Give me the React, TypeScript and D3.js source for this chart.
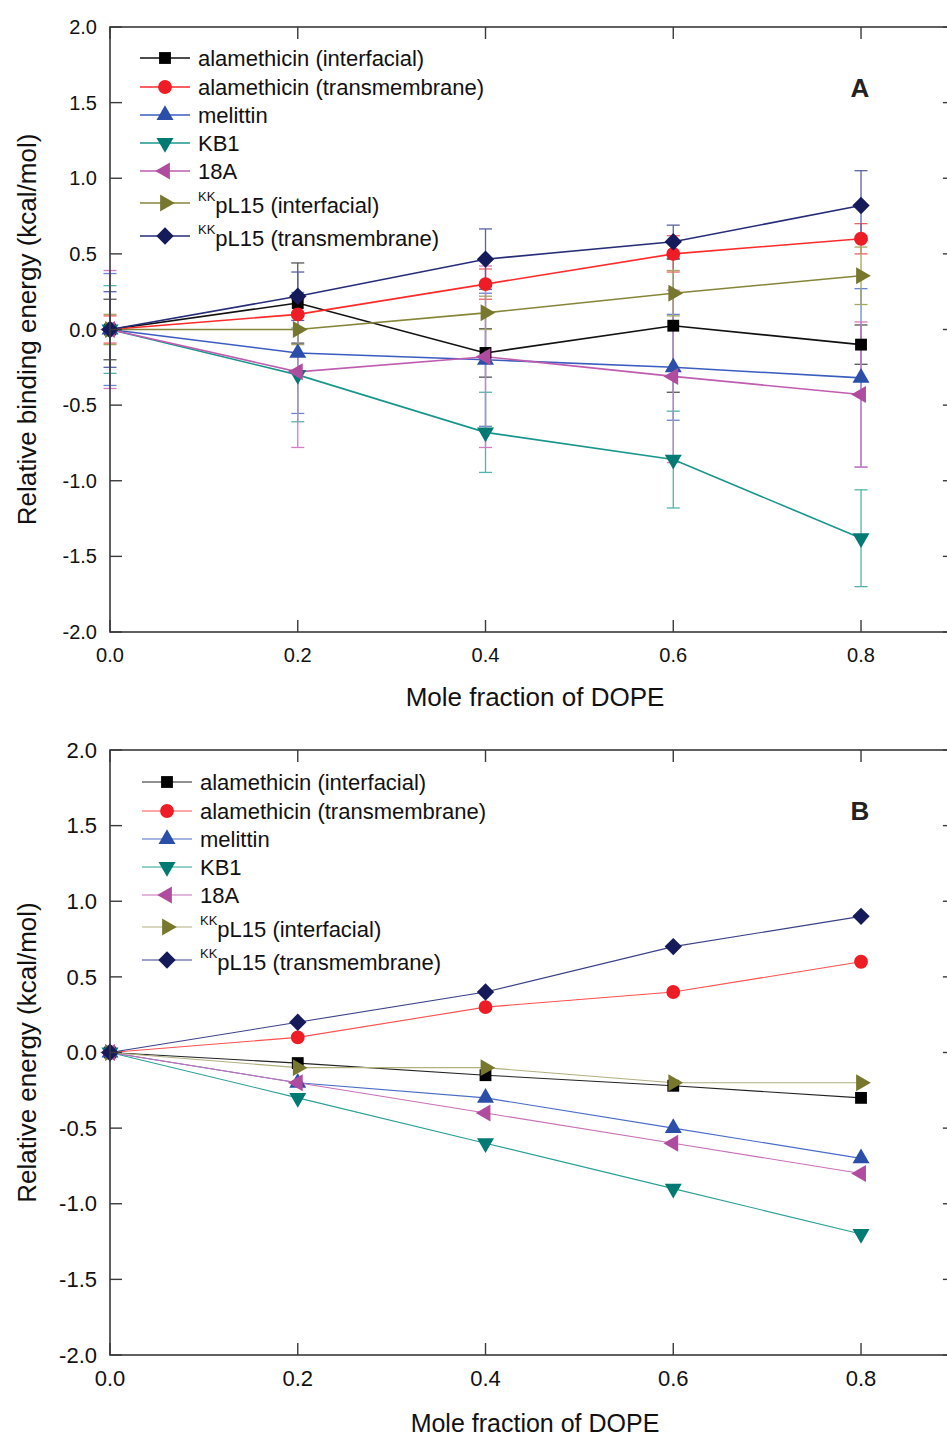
import * as d3 from "d3";

// x values (mole fraction of DOPE)
const molFrac = [0, 0.2, 0.4, 0.6, 0.8];

const seriesNames = [
  "alamethicin (interfacial)",
  "alamethicin (transmembrane)",
  "melittin",
  "KB1",
  "18A",
  "pL15 (interfacial)",
  "pL15 (transmembrane)",
];
const superscripts = ["", "", "", "", "", "KK", "KK"];
const shapes = ["square", "circle", "up", "down", "left", "right", "diamond"];
const markerColors = ["#000000", "#ee1c25", "#2b4fa8", "#007a72", "#b04ca0", "#77772e", "#141a5a"];
const lineColors = ["#111111", "#ff2a2a", "#3a5cc0", "#18968c", "#c05cb0", "#85853a", "#262c78"];
const errColors = ["#555555", "#f06060", "#6a86d2", "#52b4ac", "#d57cc6", "#a6a666", "#5a62a6"];
const lineColorsB = ["#222222", "#ff5050", "#4a6cc8", "#2aa096", "#c870b8", "#b0b080", "#3a4088"];

// panel A: relative binding energy
const valuesA = [
  [0, 0.175, -0.155, 0.025, -0.1],
  [0, 0.1, 0.3, 0.5, 0.6],
  [0, -0.155, -0.2, -0.25, -0.32],
  [0, -0.3, -0.68, -0.86, -1.38],
  [0, -0.28, -0.18, -0.31, -0.43],
  [0, 0, 0.11, 0.24, 0.355],
  [0, 0.22, 0.465, 0.58, 0.82],
];
const errorsA = [
  [0.2, 0.265, 0.16, 0.44, 0.13],
  [0.09, 0.1, 0.1, 0.12, 0.1],
  [0.37, 0.4, 0.44, 0.35, 0.59],
  [0.29, 0.31, 0.265, 0.32, 0.32],
  [0.39, 0.5, 0.6, 0.57, 0.48],
  [0.1, 0.1, 0.11, 0.15, 0.19],
  [0.25, 0.16, 0.2, 0.11, 0.23],
];

// panel B: relative energy
const valuesB = [
  [0, -0.07, -0.15, -0.22, -0.3],
  [0, 0.1, 0.3, 0.4, 0.6],
  [0, -0.2, -0.3, -0.5, -0.7],
  [0, -0.3, -0.6, -0.9, -1.2],
  [0, -0.2, -0.4, -0.6, -0.8],
  [0, -0.1, -0.1, -0.2, -0.2],
  [0, 0.2, 0.4, 0.7, 0.9],
];

const xTicks = [0, 0.2, 0.4, 0.6, 0.8];
const yTicks = [-2, -1.5, -1, -0.5, 0, 0.5, 1, 1.5, 2];

const FONT = "'Liberation Sans', Arial, sans-serif";

function markerPath(shape: string) {
  if (shape === "circle") return d3.symbol(d3.symbolCircle, 150)();
  if (shape === "square") return d3.symbol(d3.symbolSquare, 140)();
  if (shape === "diamond") return d3.symbol(d3.symbolSquare, 150)();
  return d3.symbol(d3.symbolTriangle, 125)();
}
function markerRot(shape: string) {
  if (shape === "diamond") return 45;
  if (shape === "down") return 180;
  if (shape === "left") return -90;
  if (shape === "right") return 90;
  return 0;
}

function Marker({ x, y, i }: { x: number; y: number; i: number }) {
  const s = shapes[i];
  return (
    <path
      d={markerPath(s) || ""}
      transform={`translate(${x},${y}) rotate(${markerRot(s)})`}
      fill={markerColors[i]}
    />
  );
}

function Panel(props: {
  top: number;
  bottom: number;
  values: number[][];
  errors?: number[][];
  yTitle: string;
  letter: string;
  xTitleY: number;
  xTitleSize: number;
  tickSize: number;
  lineW: number;
  lColors: string[];
  legendTop: number;
  legendX: number;
}) {
  const x = d3.scaleLinear().domain([0, 0.9]).range([110, 954.9]);
  const y = d3.scaleLinear().domain([-2, 2]).range([props.bottom, props.top]);
  const line = d3
    .line<number>()
    .x((_, j) => x(molFrac[j]))
    .y((d) => y(d));
  const legendRows = [0, 29, 57, 85, 113, 145, 178];
  const axisColor = "#3a3a3a";
  const tl = 12;

  return (
    <g>
      {/* error bars */}
      {props.errors &&
        props.values.map((vals, i) =>
          vals.map((v, j) => {
            const e = props.errors![i][j];
            const cx = x(molFrac[j]);
            return (
              <g key={`e${i}-${j}`} stroke={errColors[i]} strokeWidth={1.3}>
                <line x1={cx} x2={cx} y1={y(v - e)} y2={y(v + e)} />
                <line x1={cx - 6.5} x2={cx + 6.5} y1={y(v - e)} y2={y(v - e)} />
                <line x1={cx - 6.5} x2={cx + 6.5} y1={y(v + e)} y2={y(v + e)} />
              </g>
            );
          })
        )}
      {/* lines */}
      {props.values.map((vals, i) => (
        <path key={`l${i}`} d={line(vals) || ""} fill="none" stroke={props.lColors[i]} strokeWidth={props.lineW} />
      ))}
      {/* markers */}
      {props.values.map((vals, i) =>
        vals.map((v, j) => <Marker key={`m${i}-${j}`} x={x(molFrac[j])} y={y(v)} i={i} />)
      )}

      {/* frame */}
      <rect x={110} y={props.top} width={954.9 - 110} height={props.bottom - props.top} fill="none" stroke={axisColor} strokeWidth={1.6} />
      {yTicks.map((t) => (
        <g key={`yt${t}`}>
          <line x1={110} x2={110 + tl} y1={y(t)} y2={y(t)} stroke={axisColor} strokeWidth={1.4} />
          <line x1={954.9 - tl} x2={954.9} y1={y(t)} y2={y(t)} stroke={axisColor} strokeWidth={1.4} />
          <text x={97} y={y(t)} dy="0.35em" textAnchor="end" fontSize={props.tickSize} fontFamily={FONT} fill="#111">
            {t.toFixed(1)}
          </text>
        </g>
      ))}
      {xTicks.map((t) => (
        <g key={`xt${t}`}>
          <line x1={x(t)} x2={x(t)} y1={props.bottom} y2={props.bottom - tl} stroke={axisColor} strokeWidth={1.4} />
          <line x1={x(t)} x2={x(t)} y1={props.top} y2={props.top + tl} stroke={axisColor} strokeWidth={1.4} />
          <text x={x(t)} y={props.bottom + 23} dy="0.35em" textAnchor="middle" fontSize={props.tickSize} fontFamily={FONT} fill="#111">
            {t.toFixed(1)}
          </text>
        </g>
      ))}

      {/* axis titles */}
      <text x={535} y={props.xTitleY} dy="0.35em" textAnchor="middle" fontSize={props.xTitleSize} fontFamily={FONT} fill="#111">
        Mole fraction of DOPE
      </text>
      <text
        transform={`translate(27,${(props.top + props.bottom) / 2}) rotate(-90)`}
        dy="0.35em"
        textAnchor="middle"
        fontSize={26}
        fontFamily={FONT}
        fill="#111"
      >
        {props.yTitle}
      </text>
      <text x={860} y={props.top + 61} dy="0.35em" textAnchor="middle" fontSize={26} fontWeight="bold" fontFamily={FONT} fill="#222">
        {props.letter}
      </text>

      {/* legend */}
      {seriesNames.map((name, i) => {
        const ly = props.legendTop + legendRows[i];
        const lx = props.legendX;
        const sup = superscripts[i];
        return (
          <g key={`lg${i}`}>
            <line x1={lx} x2={lx + 50} y1={ly} y2={ly} stroke={props.lColors[i]} strokeWidth={props.lineW} />
            <Marker x={lx + 25} y={ly} i={i} />
            {sup ? (
              <text x={lx + 58} y={ly + 10} fontSize={22} fontFamily={FONT} fill="#111">
                <tspan fontSize={13} dy={-12}>
                  {sup}
                </tspan>
                <tspan dy={12}>{name}</tspan>
              </text>
            ) : (
              <text x={lx + 58} y={ly + 8} fontSize={22} fontFamily={FONT} fill="#111">
                {name}
              </text>
            )}
          </g>
        );
      })}
    </g>
  );
}

export default function App() {
  return (
    <svg width={947} height={1437} style={{ position: "absolute", left: 0, top: 0, background: "#fff" }}>
      <rect width={947} height={1437} fill="#fff" />
      <Panel
        top={27}
        bottom={632}
        values={valuesA}
        errors={errorsA}
        yTitle="Relative binding energy (kcal/mol)"
        letter="A"
        xTitleY={697}
        xTitleSize={26}
        tickSize={20}
        lineW={1.6}
        lColors={lineColors}
        legendTop={58}
        legendX={140}
      />
      <Panel
        top={750}
        bottom={1355}
        values={valuesB}
        yTitle="Relative energy (kcal/mol)"
        letter="B"
        xTitleY={1423}
        xTitleSize={25}
        tickSize={22}
        lineW={1.1}
        lColors={lineColorsB}
        legendTop={782}
        legendX={142}
      />
    </svg>
  );
}
